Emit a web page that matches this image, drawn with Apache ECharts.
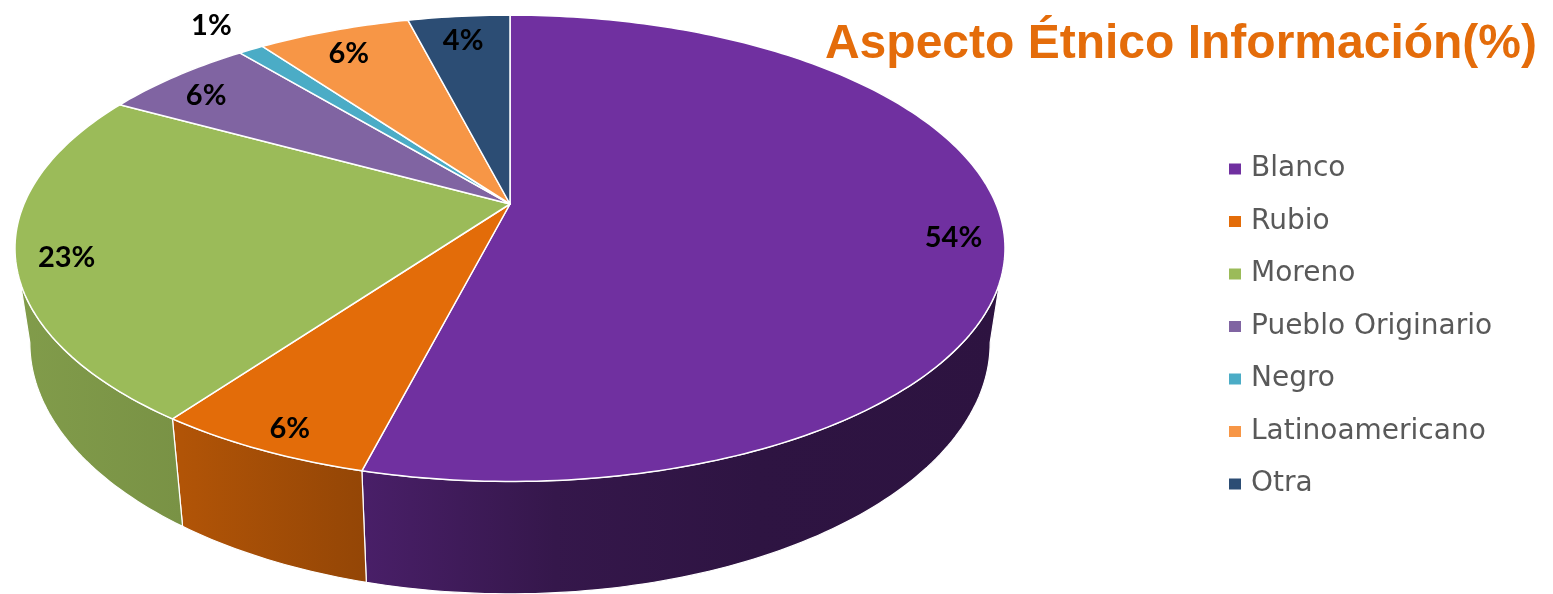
<!DOCTYPE html>
<html>
<head>
<meta charset="utf-8">
<script src="https://cdn.jsdelivr.net/npm/echarts@6/dist/echarts.min.js"></script>
<style>
  html, body { margin: 0; padding: 0; background: #fff; }
  #chart { width: 1553px; height: 594px; }
</style>
</head>
<body>
<div id="chart"></div>
<script>
const categories = ['Blanco', 'Rubio', 'Moreno', 'Pueblo Originario', 'Negro', 'Latinoamericano', 'Otra'];
const values = [54, 6, 23, 6, 1, 6, 4];
const colors = ['#7030a0', '#e36c09', '#9bbb59', '#8064a2', '#4bacc6', '#f79646', '#2c4d74'];

const total = values.reduce((a, b) => a + b, 0);

// tilted pie geometry (screen px)
const CX = 510;        // apex x
const CY = 204;        // apex y
const R = 486;         // radius
const K = 0.19;        // perspective factor
const Q = -186;
const DEPTH = 91;      // slab thickness
const BOTTOM_SCALE = 0.97;
const PHI_R = Math.acos(-K);
const PHI_L = 2 * Math.PI - PHI_R;

function proj(phi, f) {
  const ft = f * Math.cos(phi);
  const den = 1 + K * ft;
  return [CX + R * f * Math.sin(phi) / den, (CY + Q * ft) / den];
}

function projBottom(phi) {
  const p = proj(phi, 1);
  const den = 1 + K * Math.cos(phi);
  return [CX + (p[0] - CX) * BOTTOM_SCALE, p[1] + DEPTH / den];
}

function shade(hex, f) {
  const n = parseInt(hex.slice(1), 16);
  const r = Math.round(((n >> 16) & 255) * f);
  const g = Math.round(((n >> 8) & 255) * f);
  const b = Math.round((n & 255) * f);
  return 'rgb(' + r + ',' + g + ',' + b + ')';
}

function wallFill(hex) {
  const stops = [[0, 0.84], [0.18, 0.78], [0.36, 0.65], [0.55, 0.47], [0.75, 0.41], [1, 0.40]];
  return new echarts.graphic.LinearGradient(0, 0, 1010, 0,
    stops.map(s => ({ offset: s[0], color: shade(hex, s[1]) })), true);
}

function arc(a0, a1) {
  const pts = [];
  const steps = Math.max(2, Math.ceil((a1 - a0) / (Math.PI / 180)));
  for (let i = 0; i <= steps; i++) pts.push(a0 + (a1 - a0) * i / steps);
  return pts;
}

function renderSlice(params, api) {
  const start = api.value(0);
  const val = api.value(1);
  const color = colors[params.seriesIndex];
  const a0 = start / total * 2 * Math.PI;
  const a1 = (start + val) / total * 2 * Math.PI;
  const children = [];

  const b0 = Math.max(a0, PHI_R);
  const b1 = Math.min(a1, PHI_L);
  if (b1 > b0) {
    const angs = arc(b0, b1);
    const pts = angs.map(a => proj(a, 1)).concat(angs.slice().reverse().map(projBottom));
    children.push({
      type: 'polygon',
      shape: { points: pts },
      style: { fill: wallFill(color), stroke: '#ffffff', lineWidth: 1.2, lineJoin: 'round' }
    });
  }

  const top = [proj(0, 0)].concat(arc(a0, a1).map(a => proj(a, 1)));
  children.push({
    type: 'polygon',
    shape: { points: top },
    style: { fill: color, stroke: '#ffffff', lineWidth: 1.5, lineJoin: 'round' }
  });

  // small slices get their label outside the rim
  const mid = (a0 + a1) / 2;
  const outside = val < 2;
  const lp = proj(mid, outside ? 1.18 : 0.9);
  children.push({
    type: 'text',
    z2: 10,
    style: {
      text: val + '%',
      x: lp[0],
      y: lp[1] + (outside ? 0 : 8),
      align: 'center',
      verticalAlign: 'middle',
      fill: '#000000',
      font: 'bold 29px Lato'
    }
  });

  return { type: 'group', children: children };
}

const starts = [];
values.reduce((acc, v, i) => { starts[i] = acc; return acc + v; }, 0);

const chart = echarts.init(document.getElementById('chart'));
chart.setOption({
  animation: false,
  title: {
    text: 'Aspecto Étnico Información(%)',
    right: 11,
    top: 16,
    textStyle: {
      color: '#e46c0a',
      fontFamily: 'Liberation Sans',
      fontWeight: 'bold',
      fontSize: 48
    }
  },
  legend: {
    orient: 'vertical',
    left: 1224,
    top: 149,
    itemWidth: 12,
    itemHeight: 11,
    itemGap: 22.5,
    icon: 'rect',
    data: categories,
    textStyle: {
      color: '#595959',
      fontFamily: 'DejaVu Sans',
      fontSize: 28,
      lineHeight: 30,
      padding: [0, 0, 0, 5]
    }
  },
  series: categories.map((name, i) => ({
    name: name,
    type: 'custom',
    coordinateSystem: 'none',
    itemStyle: { color: colors[i] },
    renderItem: renderSlice,
    data: [[starts[i], values[i]]]
  }))
});
window.addEventListener('resize', () => chart.resize());
</script>
</body>
</html>
